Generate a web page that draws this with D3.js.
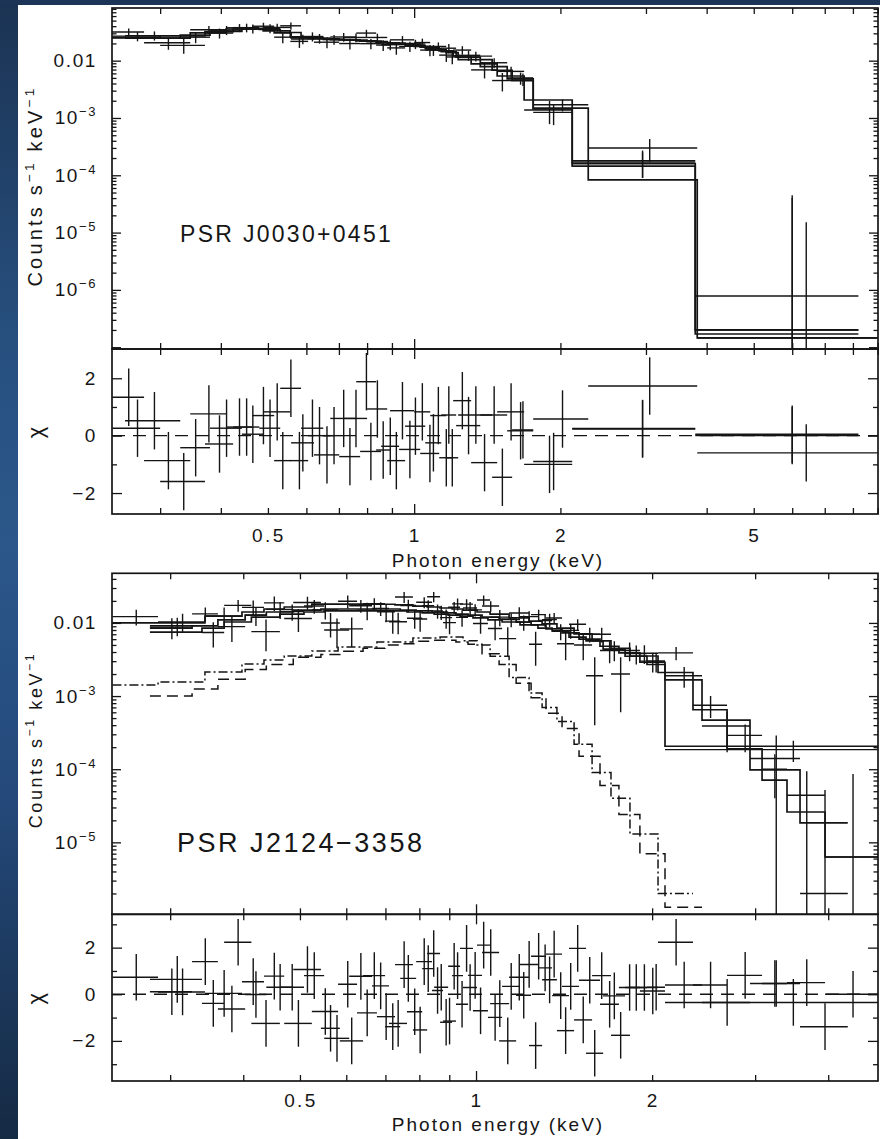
<!DOCTYPE html>
<html><head><meta charset="utf-8">
<script src="https://cdn.jsdelivr.net/npm/d3@7/dist/d3.min.js"></script>
<style>
html,body{margin:0;padding:0;background:#fff;}
svg{display:block;}
text{font-family:"Liberation Sans",Arial,Helvetica,sans-serif;fill:#161616;}
</style></head><body>
<svg id="chart" width="880" height="1139"></svg>
<script>
// ================= PSR J0030+0451 (upper figure) =================
const j0030_xDomain = [0.2388, 9.01];          // keV
const j0030_yDomain = [9.3e-8, 0.083];         // counts s^-1 keV^-1
const j0030_chiDomain = [-2.73, 3.02];
const j0030_xTickLabels = [0.5, 1, 2, 5];
const j0030_yTickLabels = [1e-2, 1e-3, 1e-4, 1e-5, 1e-6];
const j0030_chiTickLabels = [-2, 0, 2];
const j0030_chiMinorTicks = [-1, 1];

// instrument A
const j0030_A_edges = [0.239, 0.278, 0.346, 0.41, 0.464, 0.515, 0.558, 0.622, 0.701, 0.774, 0.855, 0.931, 1.029, 1.126, 1.203, 1.31, 1.482, 1.684, 2.115, 3.789, 8.21];
const j0030_A_model = [0.0249, 0.0247, 0.0305, 0.0357, 0.0357, 0.0305, 0.0249, 0.024, 0.023, 0.022, 0.0204, 0.0195, 0.0173, 0.0148, 0.0121, 0.0088, 0.0054, 0.00206, 1.6e-4, 2.0e-7];
const j0030_A_rate  = [0.0316, 0.0205, 0.0347, 0.0375, 0.0399, 0.0257, 0.0238, 0.021, 0.0199, 0.0198, 0.019, 0.0178, 0.0153, 0.0125, 0.0153, 0.0069, 0.0065, 0.00138, 1.8e-4, 7.8e-7];
const j0030_A_err   = [0.005, 0.005, 0.0055, 0.006, 0.006, 0.0055, 0.0045, 0.0045, 0.0042, 0.004, 0.0038, 0.0036, 0.0033, 0.003, 0.0026, 0.002, 0.0013, 0.0006, 9e-5, 4.4e-5];
const j0030_A_chi   = [1.34, -0.87, 0.76, 0.3, 0.7, -0.87, -0.25, -0.67, -0.73, -0.55, -0.37, -0.48, -0.62, -0.77, 1.22, -0.94, 0.83, -1.0, 0.23, 0.0];
// instrument B
const j0030_B_edges = [0.239, 0.3, 0.371, 0.424, 0.48, 0.53, 0.585, 0.65, 0.718, 0.8, 0.88, 0.958, 1.054, 1.137, 1.22, 1.368, 1.554, 1.758, 2.282, 3.825, 9.0];
const j0030_B_model = [0.0255, 0.027, 0.032, 0.0357, 0.035, 0.031, 0.0252, 0.0235, 0.0228, 0.0215, 0.0202, 0.0183, 0.0162, 0.0143, 0.0115, 0.0079, 0.0048, 0.00148, 8.3e-5, 1.45e-7];
const j0030_B_rate  = [0.0268, 0.0185, 0.0303, 0.0377, 0.0367, 0.0406, 0.0264, 0.0235, 0.0254, 0.0254, 0.0167, 0.0195, 0.0154, 0.0165, 0.0124, 0.0092, 0.005, 0.0017, 3.0e-4, 1.45e-7];
const j0030_B_err   = [0.005, 0.0053, 0.006, 0.0065, 0.0065, 0.0058, 0.0048, 0.0045, 0.0044, 0.0042, 0.004, 0.0036, 0.0033, 0.003, 0.0025, 0.0018, 0.0012, 0.0004, 1.3e-4, 1.5e-5];
const j0030_B_chi   = [0.26, -1.6, -0.29, 0.3, 0.26, 1.65, 0.26, 0.0, 0.6, 0.93, -0.87, 0.33, -0.25, 0.72, 0.35, 0.72, 0.17, 0.58, 1.73, -0.6];
// instrument C
const j0030_C_edges = [0.254, 0.33, 0.38, 0.442, 0.489, 0.556, 0.605, 0.672, 0.76, 0.835, 0.892, 1.0, 1.079, 1.164, 1.232, 1.447, 1.591, 1.758, 2.115, 3.789, 8.21];
const j0030_C_model = [0.0248, 0.028, 0.0325, 0.036, 0.033, 0.026, 0.0245, 0.0232, 0.0222, 0.0207, 0.0198, 0.0178, 0.0155, 0.0138, 0.0104, 0.0068, 0.0045, 0.00144, 1.45e-4, 1.7e-7];
const j0030_C_rate  = [0.0274, 0.0257, 0.0341, 0.0363, 0.038, 0.0217, 0.0245, 0.0259, 0.0303, 0.0187, 0.0231, 0.0207, 0.0177, 0.0116, 0.012, 0.0045, 0.0048, 0.00125, 1.7e-4, 2.0e-7];
const j0030_C_err   = [0.005, 0.0055, 0.0062, 0.0065, 0.006, 0.005, 0.0047, 0.0045, 0.0043, 0.004, 0.0038, 0.0035, 0.0031, 0.0029, 0.0023, 0.0016, 0.0012, 0.0005, 8e-5, 4e-5];
const j0030_C_chi   = [0.52, -0.42, 0.26, 0.05, 0.83, -0.87, 0.0, 0.6, 1.88, -0.5, 0.87, 0.83, 0.7, -0.77, 0.72, -1.45, 0.2, -0.9, 0.25, 0.05];

// ================= PSR J2124-3358 (lower figure) =================
const j2124_xDomain = [0.2386, 4.866];
const j2124_yDomain = [1.038e-6, 0.0477];
const j2124_chiDomain = [-3.72, 3.43];
const j2124_xTickLabels = [0.5, 1, 2];
const j2124_yTickLabels = [1e-2, 1e-3, 1e-4, 1e-5];
const j2124_chiTickLabels = [-2, 0, 2];
const j2124_chiMinorTicks = [-3, -1, 1, 3];

// instrument P
const j2124_P_edges = [0.239, 0.286, 0.344, 0.398, 0.434, 0.47, 0.524, 0.581, 0.626, 0.677, 0.727, 0.78, 0.825, 0.868, 0.91, 0.95, 1.004, 1.057, 1.139, 1.232, 1.297, 1.375, 1.471, 1.579, 1.701, 1.833, 2.047, 2.349, 2.686, 3.083, 3.401, 3.951, 4.87];
const j2124_P_model = [0.01, 0.01, 0.0124, 0.0141, 0.0155, 0.0165, 0.0181, 0.0181, 0.0181, 0.018, 0.0176, 0.017, 0.0165, 0.016, 0.0155, 0.015, 0.0141, 0.0132, 0.0117, 0.0106, 0.0097, 0.0085, 0.0071, 0.0057, 0.0045, 0.00353, 0.0021, 6.5e-4, 1.9e-4, 7.1e-5, 2.6e-5, 6.3e-6];
const j2124_P_rate  = [0.0122, 0.0103, 0.0125, 0.0163, 0.0188, 0.0115, 0.0151, 0.0198, 0.0149, 0.0142, 0.0226, 0.0113, 0.0228, 0.0118, 0.0182, 0.016, 0.0206, 0.012, 0.0137, 0.0051, 0.0111, 0.0052, 0.005, 0.007, 0.002, 0.00385, 0.0039, 7.5e-4, 2.9e-4, 1.0e-4, 4.4e-5, 6.3e-6];
const j2124_P_err   = [0.003, 0.003, 0.0037, 0.004, 0.0042, 0.004, 0.004, 0.004, 0.004, 0.004, 0.0039, 0.0037, 0.0036, 0.0035, 0.0034, 0.0033, 0.0031, 0.003, 0.0027, 0.0025, 0.0023, 0.0021, 0.0019, 0.0016, 0.0014, 0.0011, 8e-4, 2.5e-4, 1.2e-4, 6e-5, 5e-5, 8e-5];
const j2124_P_chi   = [0.73, 0.1, 0.04, 0.54, 0.78, -1.25, -0.74, 0.43, -0.8, -0.96, 1.27, -1.53, 1.75, -1.2, 0.8, 0.29, 2.11, -0.4, 0.73, -2.2, 0.62, -1.56, -1.1, 0.8, -1.76, 0.29, 2.23, 0.4, 0.81, 0.46, 0.5, 0.0];
const j2124_P_thermal = [0.00142, 0.00156, 0.00213, 0.00274, 0.00311, 0.00353, 0.00413, 0.00469, 0.00469, 0.0055, 0.0055, 0.00622, 0.00622, 0.00643, 0.00643, 0.0057, 0.005, 0.0035, 0.0018, 0.0011, 7.0e-4, 4.5e-4, 2.2e-4, 9e-5, 4e-5, 1.3e-5, 2.0e-6];
// instrument Q
const j2124_Q_edges = [0.277, 0.327, 0.362, 0.403, 0.438, 0.487, 0.543, 0.585, 0.641, 0.699, 0.742, 0.79, 0.841, 0.878, 0.924, 0.969, 1.024, 1.095, 1.171, 1.242, 1.317, 1.403, 1.5, 1.629, 1.755, 1.906, 2.104, 2.434, 2.94, 3.58, 4.32];
const j2124_Q_model = [0.0085, 0.0091, 0.011, 0.0128, 0.0141, 0.015, 0.0155, 0.0155, 0.0155, 0.0155, 0.015, 0.0146, 0.0141, 0.0137, 0.0132, 0.0128, 0.012, 0.0113, 0.0103, 0.0094, 0.0083, 0.0073, 0.006, 0.0048, 0.0039, 0.0029, 0.00166, 4.7e-4, 9.8e-5, 1.85e-5];
const j2124_Q_rate  = [0.0088, 0.0133, 0.0089, 0.0128, 0.0153, 0.019, 0.01, 0.0083, 0.0183, 0.0106, 0.0173, 0.0192, 0.0146, 0.0101, 0.0119, 0.0151, 0.017, 0.0061, 0.0102, 0.013, 0.0117, 0.0079, 0.007, 0.0042, 0.0042, 0.003, 0.0019, 3.9e-4, 1.4e-4, 2.0e-6];
const j2124_Q_err   = [0.0028, 0.003, 0.0034, 0.0037, 0.004, 0.0038, 0.0037, 0.0036, 0.0035, 0.0035, 0.0034, 0.0033, 0.0032, 0.0031, 0.003, 0.0029, 0.0028, 0.0026, 0.0024, 0.0022, 0.002, 0.0018, 0.0016, 0.0014, 0.0012, 9e-4, 6e-4, 2.2e-4, 1.5e-4, 5e-5];
const j2124_Q_chi   = [0.11, 1.4, -0.63, -0.01, 0.3, 1.06, -1.46, -2.0, 0.8, -1.39, 0.68, 1.4, 0.16, -1.15, -0.43, 0.81, 1.79, -2.0, -0.04, 1.63, 1.72, 0.34, 0.6, -0.43, 0.29, 0.14, 0.4, -0.35, 0.46, -1.39];
const j2124_Q_thermal = [0.001, 0.00125, 0.0017, 0.0023, 0.0027, 0.0034, 0.0037, 0.0041, 0.0045, 0.005, 0.0052, 0.0056, 0.0058, 0.0058, 0.0055, 0.0051, 0.0038, 0.0027, 0.0015, 9.5e-4, 5.8e-4, 3.6e-4, 1.5e-4, 6e-5, 2.4e-5, 7e-6, 1.3e-6];
// instrument R
const j2124_R_edges = [0.277, 0.34, 0.371, 0.413, 0.462, 0.508, 0.55, 0.607, 0.664, 0.71, 0.762, 0.809, 0.848, 0.896, 0.939, 0.988, 1.048, 1.108, 1.189, 1.276, 1.349, 1.442, 1.542, 1.649, 1.798, 1.96, 2.104, 4.87];
const j2124_R_model = [0.0075, 0.0085, 0.0103, 0.012, 0.0132, 0.0141, 0.0146, 0.0146, 0.0146, 0.0146, 0.0141, 0.0137, 0.0132, 0.0128, 0.0124, 0.0117, 0.011, 0.0103, 0.0094, 0.0085, 0.0078, 0.0064, 0.0057, 0.0044, 0.0035, 0.0027, 2.06e-4];
const j2124_R_rate  = [0.0092, 0.0074, 0.0174, 0.0076, 0.0143, 0.017, 0.008, 0.0172, 0.0158, 0.0104, 0.0116, 0.0172, 0.0141, 0.0164, 0.0181, 0.0098, 0.0084, 0.0111, 0.0122, 0.0108, 0.0077, 0.0096, 0.0019, 0.0043, 0.0038, 0.003, 1.85e-4];
const j2124_R_err   = [0.0026, 0.0028, 0.0032, 0.0035, 0.0036, 0.0036, 0.0035, 0.0034, 0.0034, 0.0034, 0.0033, 0.0032, 0.0031, 0.003, 0.0029, 0.0027, 0.0026, 0.0024, 0.0022, 0.002, 0.0019, 0.0016, 0.0015, 0.0013, 0.0011, 9e-4, 6e-5];
const j2124_R_chi   = [0.64, -0.39, 2.23, -1.25, 0.3, 0.8, -1.89, 0.77, 0.36, -1.25, -0.75, 1.1, 0.3, 1.2, 1.97, -0.71, -0.99, 0.34, 1.28, 1.13, -0.06, 1.97, -2.53, -0.07, 0.29, 0.3, -0.35];

// ================= drawing =================
const svg = d3.select('#chart');
const defs = svg.append('defs');
const lg = defs.append('linearGradient').attr('id','strip').attr('x1',0).attr('y1',0).attr('x2',0).attr('y2',1);
[['0%','#1b3353'],['30%','#27507f'],['48%','#2b578a'],['70%','#24497a'],['100%','#152a43']]
  .forEach(([o,c]) => lg.append('stop').attr('offset',o).attr('stop-color',c));
svg.append('rect').attr('width',880).attr('height',1139).attr('fill','url(#strip)');
svg.append('rect').attr('x',0).attr('y',0).attr('width',880).attr('height',5).attr('fill','#1c3556');
svg.append('rect').attr('x',18).attr('y',5).attr('width',862).attr('height',1134).attr('fill','#ffffff');

const INK = '#141414';
const mkSet = (edges, model, rate, err, chi) => ({edges, model, rate, err, chi});

function stepPoints(edges, vals) {
  const pts = [];
  vals.forEach((v, i) => { pts.push([edges[i], v], [edges[i+1], v]); });
  return pts;
}

function drawFigure(f) {
  const g = svg.append('g');
  const x = d3.scaleLog().domain(f.xDomain).range([f.left, f.right]);
  const y = d3.scaleLog().domain(f.yDomain).range([f.mainBottom, f.mainTop]);
  const yc = d3.scaleLinear().domain(f.chiDomain).range([f.resBottom, f.mainBottom]);

  defs.append('clipPath').attr('id', f.id+'m').append('rect')
    .attr('x', f.left).attr('y', f.mainTop).attr('width', f.right-f.left).attr('height', f.mainBottom-f.mainTop);
  defs.append('clipPath').attr('id', f.id+'r').append('rect')
    .attr('x', f.left).attr('y', f.mainBottom).attr('width', f.right-f.left).attr('height', f.resBottom-f.mainBottom);
  const mg = g.append('g').attr('clip-path', `url(#${f.id}m)`);
  const rg = g.append('g').attr('clip-path', `url(#${f.id}r)`);

  const line = d3.line().x(d => x(d[0])).y(d => y(d[1]));
  // component models
  (f.components || []).forEach(c => {
    mg.append('path').attr('d', line(stepPoints(c.edges, c.values)))
      .attr('fill','none').attr('stroke', INK).attr('stroke-width', 1.5).attr('stroke-dasharray', c.dash);
  });
  // zero line of residuals
  rg.append('line').attr('x1', f.left).attr('x2', f.right).attr('y1', yc(0)).attr('y2', yc(0))
    .attr('stroke', INK).attr('stroke-width', 1.4).attr('stroke-dasharray', '13,8');

  f.sets.forEach(s => {
    mg.append('path').attr('d', line(stepPoints(s.edges, s.model)))
      .attr('fill','none').attr('stroke', INK).attr('stroke-width', 1.7);
    const bins = s.rate.map((r, i) => ({lo: s.edges[i], hi: s.edges[i+1], c: (s.edges[i]+s.edges[i+1])/2, r, e: s.err[i], chi: s.chi[i]}));
    const cg = mg.append('g').attr('stroke', INK).attr('stroke-width', 1.4);
    cg.selectAll('.h').data(bins).join('line')
      .attr('x1', d => x(d.lo)).attr('x2', d => x(d.hi)).attr('y1', d => y(d.r)).attr('y2', d => y(d.r));
    cg.selectAll('.v').data(bins).join('line')
      .attr('x1', d => x(d.c)).attr('x2', d => x(d.c))
      .attr('y1', d => y(d.r + d.e))
      .attr('y2', d => (d.r - d.e > f.yDomain[0]) ? y(d.r - d.e) : f.mainBottom + 2);
    const rcg = rg.append('g').attr('stroke', INK).attr('stroke-width', 1.4);
    rcg.selectAll('.h').data(bins).join('line')
      .attr('x1', d => x(d.lo)).attr('x2', d => x(d.hi)).attr('y1', d => yc(d.chi)).attr('y2', d => yc(d.chi));
    rcg.selectAll('.v').data(bins).join('line')
      .attr('x1', d => x(d.c)).attr('x2', d => x(d.c)).attr('y1', d => yc(d.chi + 1)).attr('y2', d => yc(d.chi - 1));
  });

  // frames
  [[f.mainTop, f.mainBottom], [f.mainBottom, f.resBottom]].forEach(([t, b]) => {
    g.append('rect').attr('x', f.left).attr('y', t).attr('width', f.right-f.left).attr('height', b-t)
      .attr('fill','none').attr('stroke', INK).attr('stroke-width', 1.7);
  });

  const styleAxis = sel => { sel.select('.domain').remove(); sel.selectAll('line').attr('stroke', INK).attr('stroke-width', 1.3); sel.selectAll('text').remove(); };
  const xt = x.ticks();
  const xMaj = xt.filter(v => Math.abs(Math.log10(v) - Math.round(Math.log10(v))) < 1e-9);
  const xMin = xt.filter(v => !xMaj.includes(v));
  // x ticks at all horizontal frame edges
  [[d3.axisTop, f.mainTop], [d3.axisBottom, f.mainBottom], [d3.axisTop, f.mainBottom], [d3.axisBottom, f.resBottom]].forEach(([ax, yy]) => {
    g.append('g').attr('transform', `translate(0,${yy})`).call(ax(x).tickValues(xMin).tickSize(-6).tickSizeOuter(0)).call(styleAxis);
    g.append('g').attr('transform', `translate(0,${yy})`).call(ax(x).tickValues(xMaj).tickSize(-10).tickSizeOuter(0)).call(styleAxis);
  });
  // log y ticks
  const yt = y.ticks();
  const yMaj = yt.filter(v => Math.abs(Math.log10(v) - Math.round(Math.log10(v))) < 1e-9);
  const yMin = yt.filter(v => !yMaj.includes(v));
  [[d3.axisLeft, f.left], [d3.axisRight, f.right]].forEach(([ax, xx]) => {
    g.append('g').attr('transform', `translate(${xx},0)`).call(ax(y).tickValues(yMin).tickSize(-4.5).tickSizeOuter(0)).call(styleAxis);
    g.append('g').attr('transform', `translate(${xx},0)`).call(ax(y).tickValues(yMaj).tickSize(-9).tickSizeOuter(0)).call(styleAxis);
    g.append('g').attr('transform', `translate(${xx},0)`).call(ax(yc).tickValues(f.chiMinor).tickSize(-5).tickSizeOuter(0)).call(styleAxis);
    g.append('g').attr('transform', `translate(${xx},0)`).call(ax(yc).tickValues(f.chiLabels).tickSize(-10).tickSizeOuter(0)).call(styleAxis);
  });

  // y tick labels (log)
  f.yLabels.forEach(v => {
    const t = g.append('text').attr('x', 97).attr('y', y(v) + 6.5).attr('text-anchor','end')
      .attr('font-size', 19).attr('letter-spacing', 1.6);
    if (v >= 0.01) t.text(d3.format('.2f')(v));
    else {
      t.append('tspan').text('10');
      t.append('tspan').attr('dy', -8).attr('font-size', 13).text('\u2212' + Math.round(-Math.log10(v)));
    }
  });
  // chi tick labels
  f.chiLabels.forEach(v => {
    g.append('text').attr('x', 97).attr('y', yc(v) + 6.5).attr('text-anchor','end')
      .attr('font-size', 19).attr('letter-spacing', 1.6).text(v < 0 ? '\u2212' + (-v) : String(v));
  });
  // x tick labels
  f.xLabels.forEach(v => {
    g.append('text').attr('x', x(v) + 1).attr('y', f.xLabelY).attr('text-anchor','middle')
      .attr('font-size', 19).attr('letter-spacing', 2.4).text(String(v));
  });
  g.append('text').attr('x', 498).attr('y', f.xTitleY).attr('text-anchor','middle')
    .attr('font-size', 19).attr('letter-spacing', 2).text('Photon energy (keV)');

  // y title
  const yt2 = g.append('text').attr('transform', `translate(${f.yTitleX},${f.yTitleY}) rotate(-90)`)
    .attr('text-anchor','middle').attr('font-size', f.yTitleSize).attr('letter-spacing', f.yTitleLs);
  yt2.append('tspan').text('Counts s');
  yt2.append('tspan').attr('dy', -8).attr('font-size', f.yTitleSize*0.68).text('\u22121');
  yt2.append('tspan').attr('dy', 8).text(' keV');
  yt2.append('tspan').attr('dy', -8).attr('font-size', f.yTitleSize*0.68).text('\u22121');
  // chi title
  g.append('text').attr('transform', `translate(43,${(yc.range()[0]+yc.range()[1])/2 + 1}) rotate(-90)`)
    .attr('text-anchor','middle').attr('font-size', 22).text('\u03C7');
  // source name
  g.append('text').attr('x', f.nameX).attr('y', f.nameY).attr('font-size', f.nameSize)
    .attr('letter-spacing', f.nameLs).text(f.name);
}

drawFigure({
  id: 'j0030', left: 112, right: 878, mainTop: 8, mainBottom: 349, resBottom: 514,
  xDomain: j0030_xDomain, yDomain: j0030_yDomain, chiDomain: j0030_chiDomain,
  sets: [
    mkSet(j0030_A_edges, j0030_A_model, j0030_A_rate, j0030_A_err, j0030_A_chi),
    mkSet(j0030_B_edges, j0030_B_model, j0030_B_rate, j0030_B_err, j0030_B_chi),
    mkSet(j0030_C_edges, j0030_C_model, j0030_C_rate, j0030_C_err, j0030_C_chi)
  ],
  components: [],
  xLabels: j0030_xTickLabels, yLabels: j0030_yTickLabels, chiLabels: j0030_chiTickLabels, chiMinor: j0030_chiMinorTicks,
  xLabelY: 542, xTitleY: 567,
  yTitleX: 42, yTitleY: 186, yTitleSize: 20, yTitleLs: 3.2,
  name: 'PSR J0030+0451', nameX: 180, nameY: 242, nameSize: 23, nameLs: 2.3
});

drawFigure({
  id: 'j2124', left: 112, right: 878, mainTop: 573.3, mainBottom: 914.3, resBottom: 1081,
  xDomain: j2124_xDomain, yDomain: j2124_yDomain, chiDomain: j2124_chiDomain,
  sets: [
    mkSet(j2124_P_edges, j2124_P_model, j2124_P_rate, j2124_P_err, j2124_P_chi),
    mkSet(j2124_Q_edges, j2124_Q_model, j2124_Q_rate, j2124_Q_err, j2124_Q_chi),
    mkSet(j2124_R_edges, j2124_R_model, j2124_R_rate, j2124_R_err, j2124_R_chi)
  ],
  components: [
    {edges: j2124_P_edges, values: j2124_P_thermal, dash: '9,3,2,3'},
    {edges: j2124_Q_edges, values: j2124_Q_thermal, dash: '11,6'}
  ],
  xLabels: j2124_xTickLabels, yLabels: j2124_yTickLabels, chiLabels: j2124_chiTickLabels, chiMinor: j2124_chiMinorTicks,
  xLabelY: 1107, xTitleY: 1131,
  yTitleX: 42, yTitleY: 740, yTitleSize: 18, yTitleLs: 2.6,
  name: 'PSR J2124\u22123358', nameX: 177, nameY: 852, nameSize: 27, nameLs: 2.5
});
</script>
</body></html>
